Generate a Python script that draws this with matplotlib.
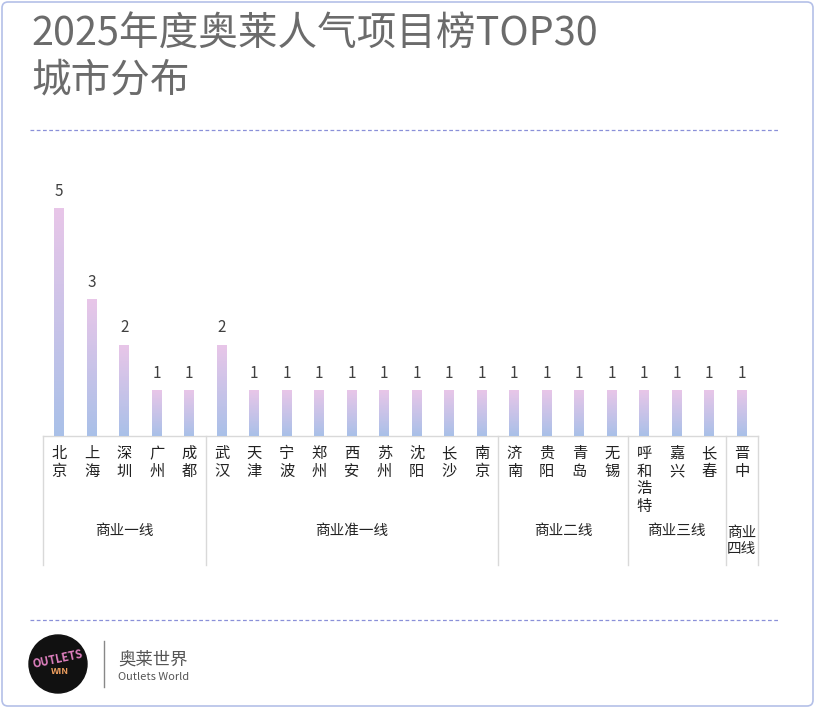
import matplotlib
matplotlib.use("Agg")
import matplotlib.pyplot as plt
import numpy as np
from matplotlib.patches import FancyBboxPatch, Circle
from matplotlib.colors import LinearSegmentedColormap

plt.rcParams['font.family'] = ['Noto Sans CJK SC', 'DejaVu Sans']

cities = ["北京", "上海", "深圳", "广州", "成都", "武汉", "天津", "宁波", "郑州", "西安",
          "苏州", "沈阳", "长沙", "南京", "济南", "贵阳", "青岛", "无锡", "呼和浩特",
          "嘉兴", "长春", "晋中"]
counts = [5, 3, 2, 1, 1, 2, 1, 1, 1, 1, 1, 1, 1, 1, 1, 1, 1, 1, 1, 1, 1, 1]
groups = ["商业一线", "商业准一线", "商业二线", "商业三线", "商业\n四线"]
group_sizes = [5, 9, 4, 3, 1]

W, H = 815, 708
fig = plt.figure(figsize=(W / 100, H / 100), dpi=100)

# border, dividers, titles
bg = fig.add_axes([0, 0, 1, 1]); bg.set_xlim(0, W); bg.set_ylim(H, 0); bg.axis("off")
bg.add_patch(FancyBboxPatch((2, 2), W - 4, H - 4, boxstyle="round,pad=0,rounding_size=6",
                            fc="white", ec="#b4c0e8", lw=1.2))
for yy in (130, 620):
    bg.plot([30, 780], [yy, yy], color="#8a90d8", lw=0.9, ls=(0, (3, 2)))
bg.text(31, 35, "2025年度奥莱人气项目榜TOP30", fontsize=28.5, color="#6b6b6b", va="center")
bg.text(31, 80, "城市分布", fontsize=28.5, color="#6b6b6b", va="center")

# logo
bg.add_patch(Circle((58, 664), 29, color="#111111"))
bg.text(58, 659, "OUTLETS", fontsize=8, color="#e080c0", ha="center", va="center",
        rotation=12, fontweight="bold")
bg.text(60, 672, "WIN", fontsize=6.5, color="#f0a060", ha="center", va="center", fontweight="bold")
bg.plot([104, 104], [641, 687], color="#888888", lw=1)
bg.text(118, 660, "奥莱世界", fontsize=12.5, color="#555555", va="center")
bg.text(118, 677, "Outlets World", fontsize=8, color="#555555", va="center")

# chart
left, right, base, top = 43, 758, 436, 160
unit = (base - 209) / 5
ax = fig.add_axes([left / W, 1 - base / H, (right - left) / W, (base - top) / H])
n = len(cities)
ax.axis("off")
cmap = LinearSegmentedColormap.from_list("g", ["#a9c0e8", "#e8c6e8"])
grad = np.linspace(0, 1, 100).reshape(-1, 1)
bw = 0.3
for i, v in enumerate(counts):
    cx = i + 0.5
    ax.imshow(grad, cmap=cmap, origin="lower", aspect="auto",
              extent=(cx - bw / 2, cx + bw / 2, 0, v), zorder=2)
    ax.text(cx, v + 0.2, str(v), ha="center", va="bottom", fontsize=11, color="#404040")
ax.set_xlim(0, n); ax.set_ylim(0, (base - top) / unit)

# category axis
cw = (right - left) / n
bg.plot([left, right], [base, base], color="#d9d9d9", lw=1)
for i, c in enumerate(cities):
    cx = left + (i + 0.5) * cw
    bg.text(cx, 445, "\n".join(c), ha="center", va="top", fontsize=11,
            color="#222222", linespacing=1.05)
bounds = [0] + list(np.cumsum(group_sizes))
for b in bounds:
    x = left + b * cw
    bg.plot([x, x], [base, 565], color="#d9d9d9", lw=1)
for g, a, b in zip(groups, bounds[:-1], bounds[1:]):
    cx = left + (a + b) / 2 * cw
    bg.text(cx, 531 if "\n" not in g else 541, g, ha="center", va="center", fontsize=10.5,
            color="#222222", linespacing=1.1)

fig.savefig("out.png", dpi=100)
